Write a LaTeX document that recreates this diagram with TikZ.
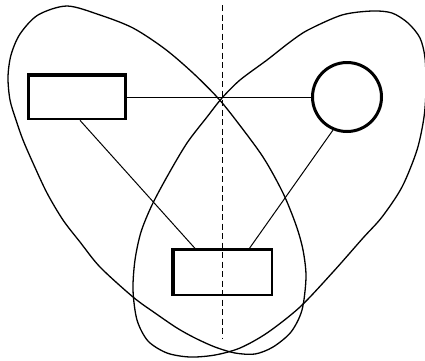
\documentclass[tikz,border=0pt]{standalone}
\usetikzlibrary{calc}
\begin{document}
\begin{tikzpicture}[x=1pt,y=-1pt,
  loop/.style={line width=1.3pt, line join=round},
  box/.style={draw, rectangle, line width=2.2pt, inner sep=0pt},
  ring/.style={draw, circle, line width=3pt, inner sep=0pt, minimum size=69pt},
  link/.style={line width=1pt},
  axis/.style={line width=0.8pt, dash pattern=on 6pt off 3.5pt}]
\useasboundingbox (0,0) rectangle (425,360);
% left loop
\draw[loop] plot[smooth cycle, tension=0.5] coordinates {
 (67,6) (100,15) (133,28) (165,49) (193,73) (217,97) (235,119) (263,157)
 (283,193) (296,225) (303,250) (306,277) (302,310) (291,332) (273,347)
 (255,354) (235,353) (215,347) (195,338) (177,328) (155,313) (133,297)
 (100,267) (80,242) (63,220) (47,193) (33,163) (23,140) (16,120) (10,100)
 (8,77) (11,55) (20,34) (38,15)};
% right loop
\draw[loop] plot[smooth cycle, tension=0.5] coordinates {
 (372,11) (392,13) (408,23) (420,38) (425,58) (426,88) (424,117) (417,150)
 (402,187) (382,217) (363,238) (333,272) (300,307) (267,333) (240,348)
 (215,355) (190,357) (167,353) (148,341) (137,320) (133,290) (135,260)
 (141,232) (152,205) (168,175) (187,143) (207,117) (222,98) (240,80)
 (267,60) (290,42) (308,30) (342,15)};
% dashed axis
\coordinate (top) at (222,5);
\coordinate (bot) at (222,338);
\draw[axis] (top) -- (bot);
% nodes
\node[box, minimum width=97pt, minimum height=44.4pt] (r1) at (77,97) {};
\node[ring] (c) at (347,97) {};
\node[box, minimum width=98.8pt, minimum height=45.2pt] (r2) at (222.2,272) {};
% heavy edges
\draw[line width=4pt] ([yshift=-1pt]r1.north west) -- ([yshift=-1pt]r1.north east);
\draw[line width=4pt] ([xshift=1pt]r2.north west) -- ([xshift=1pt]r2.south west);
% connectors
\draw[link] (r1.east) -- (c.west);
\draw[link] ($(r1.south west)!0.53!(r1.south east)$) -- ($(r2.north west)!0.23!(r2.north east)$);
\draw[link] (c.247) -- ($(r2.north west)!0.77!(r2.north east)$);
\end{tikzpicture}
\end{document}
